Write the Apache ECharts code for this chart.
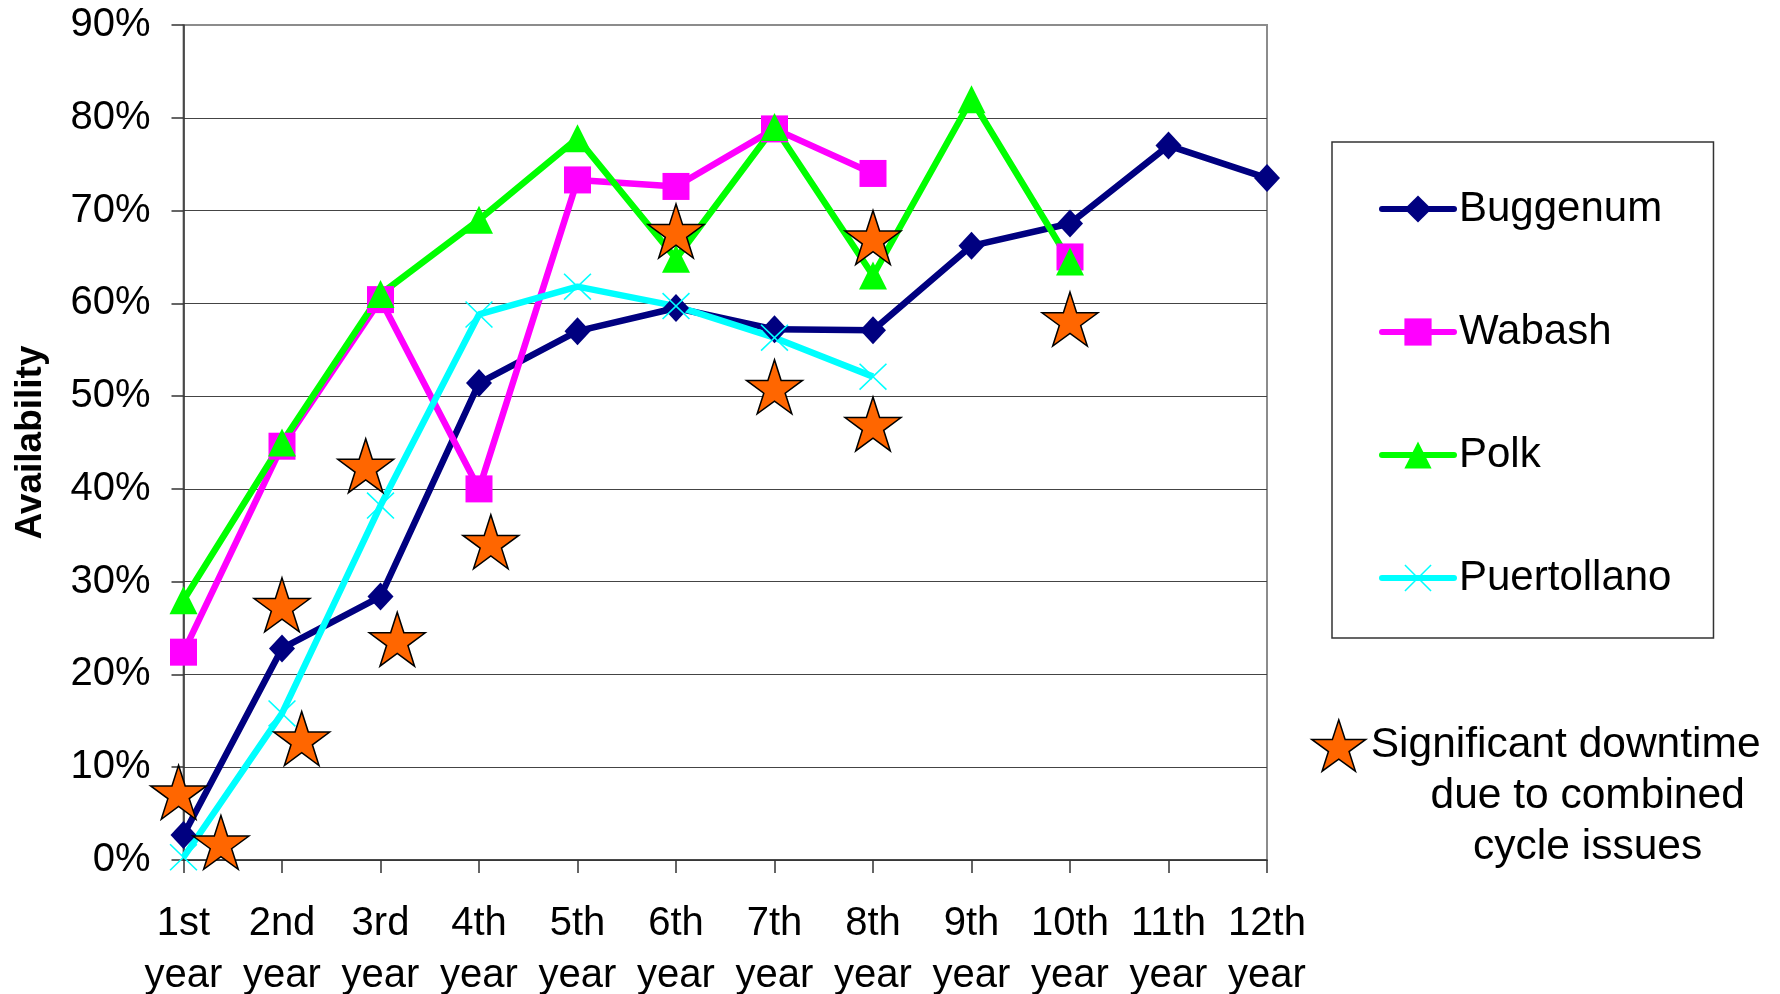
<!DOCTYPE html>
<html>
<head>
<meta charset="utf-8">
<script src="https://cdn.jsdelivr.net/npm/echarts@6/dist/echarts.min.js"></script>
<style>
  html, body { margin: 0; padding: 0; background: #ffffff; }
  #chart { width: 1780px; height: 994px; }
</style>
</head>
<body>
<div id="chart"></div>
<script>
// Availability (%) of IGCC plants by year of operation
const years = ['1st\nyear', '2nd\nyear', '3rd\nyear', '4th\nyear', '5th\nyear', '6th\nyear',
               '7th\nyear', '8th\nyear', '9th\nyear', '10th\nyear', '11th\nyear', '12th\nyear'];

const buggenum    = [2.7, 22.8, 28.4, 51.4, 57.0, 59.5, 57.2, 57.1, 66.2, 68.6, 77.0, 73.5];
const wabash      = [22.4, 44.6, 60.4, 40.0, 73.3, 72.6, 78.8, 74.0, null, 65.0, null, null];
const polk        = [28.0, 45.0, 61.0, 69.0, 77.8, 64.8, 79.0, 63.0, 82.0, 64.5, null, null];
const puertollano = [0.3, 15.8, 38.2, 58.8, 61.8, 59.7, 56.3, 52.1, null, null, null, null];

// Significant downtime due to combined cycle issues:
// position along the year axis (0 = 1st year) and availability (%)
const downtimeYear  = [-0.05, 0.38, 1.0, 1.2, 1.85, 2.17, 3.12, 5.0, 6.0, 7.0, 7.0, 9.0];
const downtimeValue = [7.3, 1.9, 27.5, 13.1, 42.5, 23.8, 34.3, 67.8, 51.0, 67.1, 47.0, 58.3];

// Percentage axis
const yMin = 0, yMax = 90, yStep = 10;

const FONT = '"Liberation Sans", Arial, Helvetica, sans-serif';
const STAR = 'path://M50,0 L61.23,34.55 L97.55,34.55 L68.16,55.9 L79.39,90.45 L50,69.1 L20.61,90.45 L31.84,55.9 L2.45,34.55 L38.77,34.55 Z';
const CROSS = 'path://M0,4 L4,0 L50,46 L96,0 L100,4 L54,50 L100,96 L96,100 L50,54 L4,100 L0,96 L46,50 Z';
const DOWNTIME = 'Significant downtime due to combined cycle issues';

const chart = echarts.init(document.getElementById('chart'), null, { renderer: 'canvas' });

function lineSeries(name, data, color, symbol, size) {
  return {
    name: name,
    type: 'line',
    data: data,
    xAxisIndex: 0,
    symbol: symbol,
    symbolSize: size,
    showAllSymbol: true,
    connectNulls: false,
    lineStyle: { color: color, width: 6.5 },
    itemStyle: { color: color },
    emphasis: { disabled: true },
    animation: false
  };
}

const gridLineColors = [];
for (let v = yMin; v <= yMax; v += yStep) gridLineColors.push(v === yMax ? '#8c8c8c' : '#444444');

chart.setOption({
  backgroundColor: '#ffffff',
  animation: false,
  textStyle: { fontFamily: FONT },
  grid: {
    left: 183.5, right: 513, top: 25, bottom: 134,
    outerBoundsMode: 'none',
    containLabel: false,
    show: true, borderColor: '#8c8c8c', borderWidth: 2, backgroundColor: 'transparent'
  },
  xAxis: [
    {
      type: 'category',
      data: years,
      boundaryGap: false,
      axisLine: { lineStyle: { color: '#333333', width: 1.5 } },
      axisTick: { show: true, inside: false, length: 13, lineStyle: { color: '#333333', width: 1.5 } },
      axisLabel: {
        color: '#000000', fontSize: 40, fontFamily: FONT, lineHeight: 52, margin: 38,
        interval: 0
      },
      splitLine: { show: false }
    },
    {
      type: 'value',
      min: 0, max: years.length - 1,
      show: false
    }
  ],
  yAxis: {
    type: 'value',
    min: yMin, max: yMax, interval: yStep,
    name: 'Availability',
    nameLocation: 'middle',
    nameRotate: 90,
    nameGap: 134,
    nameTextStyle: { color: '#000000', fontSize: 37, fontWeight: 'bold', fontFamily: FONT },
    axisLine: { show: true, lineStyle: { color: '#333333', width: 1.5 } },
    axisTick: { show: true, inside: false, length: 12, lineStyle: { color: '#333333', width: 1.5 } },
    axisLabel: { color: '#000000', fontSize: 40, fontFamily: FONT, margin: 33, formatter: '{value}%' },
    splitLine: { show: true, lineStyle: { color: gridLineColors, width: 1.2 } }
  },
  legend: [
    {
      data: ['Buggenum', 'Wabash', 'Polk', 'Puertollano'],
      orient: 'vertical',
      left: 1332, top: 142,
      padding: [45, 42, 38, 47],
      itemGap: 79,
      itemWidth: 72,
      itemHeight: 34,
      borderColor: '#333333',
      borderWidth: 1.5,
      backgroundColor: '#ffffff',
      selectedMode: false,
      lineStyle: { width: 6, cap: 'round' },
      textStyle: { color: '#000000', fontSize: 42, lineHeight: 44, fontFamily: FONT }
    },
    {
      data: [DOWNTIME],
      orient: 'vertical',
      left: 1311, top: 618,
      padding: 0,
      itemWidth: 54,
      itemHeight: 52,
      selectedMode: false,
      icon: STAR,
      itemStyle: { color: '#ff6600', borderColor: '#000000', borderWidth: 1.5 },
      formatter: function () {
        return '{a|Significant downtime}\n{b|due to combined}\n{b|cycle issues}';
      },
      textStyle: {
        color: '#000000', fontSize: 42.5, fontFamily: FONT, lineHeight: 51,
        padding: [102, 0, 0, 0],
        rich: {
          a: { fontSize: 42.5, fontFamily: FONT, lineHeight: 51, align: 'center', color: '#000000' },
          b: { fontSize: 42.5, fontFamily: FONT, lineHeight: 51, align: 'center', color: '#000000', padding: [0, 0, 0, 44] }
        }
      }
    }
  ],
  series: [
    lineSeries('Buggenum', buggenum, '#000080', 'diamond', [26, 28]),
    lineSeries('Wabash', wabash, '#ff00ff', 'rect', [27, 27]),
    lineSeries('Polk', polk, '#00ff00', 'triangle', [28, 28]),
    lineSeries('Puertollano', puertollano, '#00ffff', CROSS, [28, 27]),
    {
      name: DOWNTIME,
      type: 'scatter',
      xAxisIndex: 1,
      clip: false,
      data: downtimeYear.map((x, i) => [x, downtimeValue[i]]),
      symbol: STAR,
      symbolSize: [56, 54],
      itemStyle: { color: '#ff6600', borderColor: '#000000', borderWidth: 1.5, opacity: 1 },
      emphasis: { disabled: true },
      z: 5
    }
  ]
});
</script>
</body>
</html>
